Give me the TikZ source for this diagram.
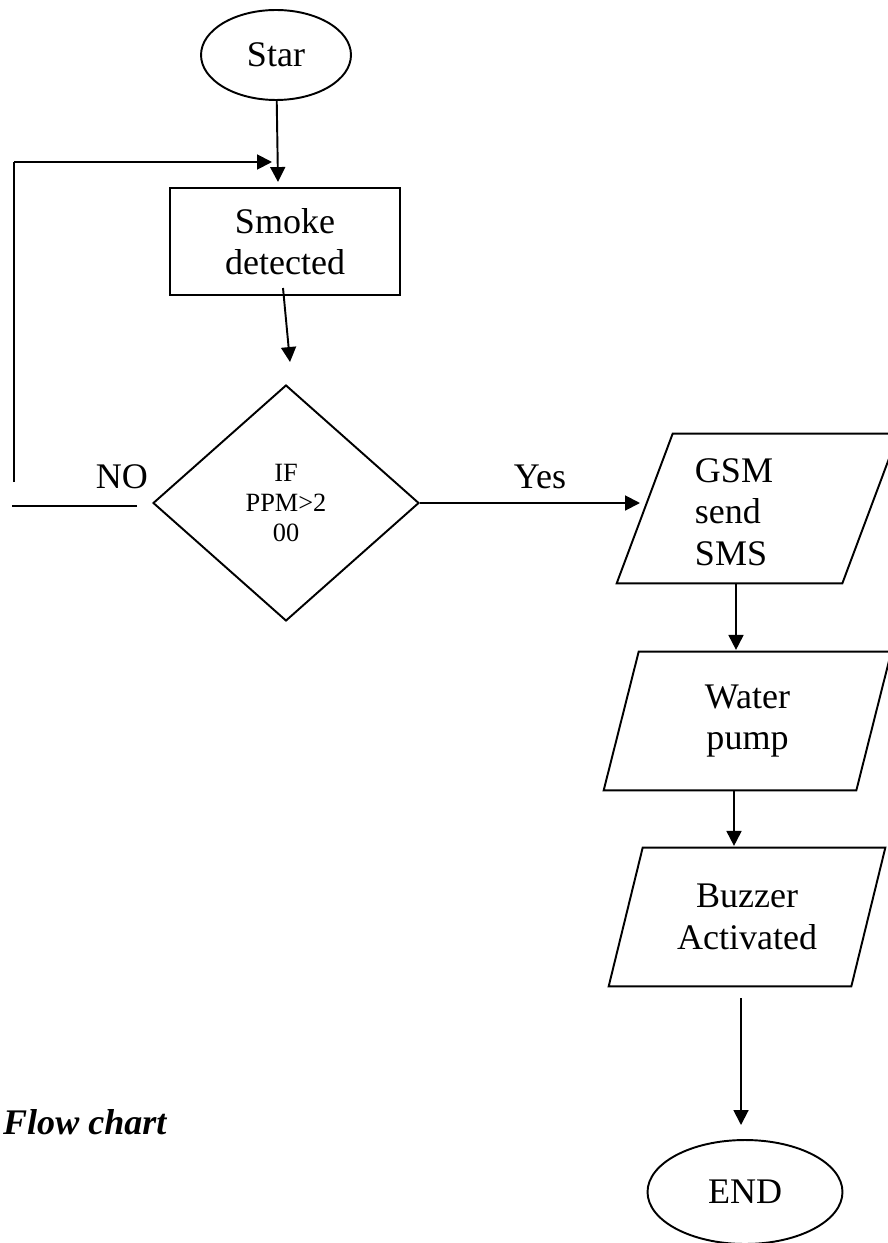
\documentclass[tikz,border=0pt]{standalone}
\usepackage{fontspec}
\setmainfont{Liberation Serif}
\usetikzlibrary{shapes,arrows,positioning,calc,arrows.meta}

% parallelogram drawn round a named box: #1 node, #2 slant
\newcommand{\slantbox}[2]{%
    \draw[line width=1.1pt] (#1.south west) -- ([xshift=-#2]#1.south east)
        -- (#1.north east) -- ([xshift=#2]#1.north west) -- cycle;}

\begin{document}
\begin{tikzpicture}[
    x=0.02cm, y=-0.02cm,
    every node/.style={font=\fontsize{20.5}{23.5}\selectfont},
    term/.style={ellipse, draw, line width=1.1pt, inner sep=0pt},
    proc/.style={rectangle, draw, line width=1.1pt, align=center},
    decide/.style={diamond, draw, line width=1.1pt, inner sep=0pt, align=center,
        font=\fontsize{15}{17}\selectfont},
    io/.style={rectangle, inner sep=0pt, align=center},
    arr/.style={line width=1.1pt, -{Triangle[length=8.5pt,width=8.5pt]}},
    thinline/.style={line width=0.7pt}
]
    \useasboundingbox (0,0) rectangle (888,1243);

    \node[term, minimum width=3cm, minimum height=1.8cm] (start) at (276,55) {Star};
    \node[proc, minimum width=4.6cm, minimum height=2.14cm] (smoke) at (285,241.5) {Smoke\\detected};
    \node[decide, minimum width=5.32cm, minimum height=4.72cm] (check) at (286,503) {IF\\PPM>2\\00};
    \node[io, minimum width=5.62cm, minimum height=2.98cm] (gsm) at (757.5,508.5) {};
    \node[align=left] (gsmtext) at (734,512) {GSM\\send\\SMS};
    \node[io, minimum width=5.74cm, minimum height=2.76cm] (pump) at (747.5,721) {Water\\pump};
    \node[io, minimum width=5.52cm, minimum height=2.76cm] (buzzer) at (747,917) {Buzzer\\Activated};
    \node[term, minimum width=3.9cm, minimum height=2.08cm] (stop) at (745,1192) {END};
    \slantbox{gsm}{1.12cm}
    \slantbox{pump}{0.7cm}
    \slantbox{buzzer}{0.68cm}

    \node (no) at (122,477) {NO};
    \node (yes) at (540,477) {Yes};
    \node[anchor=west, font=\fontsize{20.5}{23.5}\selectfont\bfseries\itshape] (caption) at (-3,1122) {Flow chart};

    \coordinate (in1) at (278,182);
    \coordinate (out1) at (283,288);
    \coordinate (in2) at (290,362);
    \coordinate (looptip) at (272,162);
    \coordinate (loopcorner) at (14,162);
    \coordinate (loopfoot) at (14,482);
    \coordinate (noa) at (137,506);
    \coordinate (nob) at (12,506);
    \coordinate (yesend) at (640,503);
    \coordinate (c1) at (736,0);
    \coordinate (c2) at (734,0);
    \coordinate (out2) at (741,998);
    \coordinate (in3) at (741,1125);

    \draw[arr] (start) -- (in1);
    \draw[arr] (out1) -- (in2);
    \draw[arr] (check.east) -- (yesend);
    \draw[thinline] (noa) -- (nob);
    \draw[thinline] (loopfoot) -- (loopcorner);
    \draw[arr] (loopcorner) -- (looptip);
    \draw[arr] (gsm.south -| c1) -- ([yshift=1pt]pump.north -| c1);
    \draw[arr] (pump.south -| c2) -- ([yshift=1pt]buzzer.north -| c2);
    \draw[arr] (out2) -- (in3);
\end{tikzpicture}
\end{document}
